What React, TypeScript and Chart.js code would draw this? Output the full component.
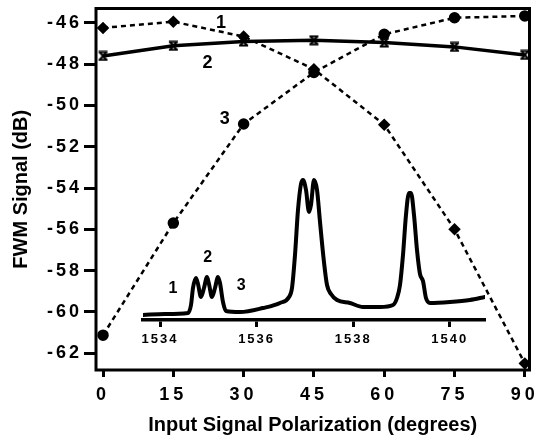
import React, { useEffect, useRef } from 'react';
import { Chart, registerables, LinearScale } from 'chart.js';

// ---------- data ----------
const POLARIZATION = [0, 15, 30, 45, 60, 75, 90];
const SERIES_1 = [-46.24, -45.94, -46.66, -48.24, -50.93, -56.0, -62.5];
const SERIES_2 = [-47.6, -47.11, -46.9, -46.84, -46.95, -47.16, -47.55];
const SERIES_3 = [-61.13, -55.7, -50.9, -48.4, -46.55, -45.75, -45.66];
const SERIES_NAMES = ['1', '2', '3'];
const SERIES_NAME_X = [25.2, 22.3, 26.0];
const SERIES_NAME_Y = [-46.0, -47.93, -50.64];

const X_TICKS = [0, 15, 30, 45, 60, 75, 90];
const Y_TICKS = [-62, -60, -58, -56, -54, -52, -50, -48, -46];
const X_TITLE = 'Input Signal Polarization (degrees)';
const Y_TITLE = 'FWM Signal (dB)';

// inset spectrum (wavelength in nm, relative power in arbitrary units)
const WAVELENGTH = [
  1533.648, 1534.104, 1534.58, 1534.642, 1534.683, 1534.745, 1534.787, 1534.849, 1534.911, 1534.973,
  1535.014, 1535.077, 1535.139, 1535.201, 1535.242, 1535.304, 1535.366, 1535.656, 1536.133, 1536.484,
  1536.671, 1536.733, 1536.795, 1536.857, 1536.919, 1536.961, 1537.023, 1537.085, 1537.126, 1537.188,
  1537.251, 1537.313, 1537.395, 1537.458, 1537.54, 1537.665, 1537.934, 1538.203, 1538.555, 1538.824,
  1538.907, 1538.969, 1539.031, 1539.093, 1539.155, 1539.197, 1539.259, 1539.321, 1539.383, 1539.445,
  1539.507, 1539.59, 1540.004, 1540.418, 1540.729,
];
const SPECTRUM = [
  5, 6, 7, 15, 32, 42, 36, 23, 32, 43,
  36, 23, 32, 43, 37, 18, 9, 8, 12, 17,
  23, 32, 65, 110, 136, 140, 130, 108, 115, 140,
  130, 98, 58, 35, 26, 20, 17, 13, 13, 15,
  22, 35, 65, 105, 127, 127, 105, 70, 46, 39,
  22, 17, 18, 20, 23,
];
const INSET_TICKS = [1534, 1536, 1538, 1540];
const INSET_NAMES = ['1', '2', '3'];
const INSET_NAME_X = [1534.27, 1534.99, 1535.68];
const INSET_NAME_Y = [31, 62, 34];

// ---------- setup ----------
const FONT = '"Liberation Sans", Arial, Helvetica, sans-serif';

class SpacedLinearScale extends LinearScale {
  static id = 'spacedLinear';
  static defaults = LinearScale.defaults;
  drawLabels(chartArea: any) {
    const ctx: any = this.ctx;
    ctx.save();
    ctx.letterSpacing = (this.options as any).letterSpacing || '0px';
    super.drawLabels(chartArea);
    ctx.restore();
  }
}

Chart.register(...registerables, SpacedLinearScale);

function makeHourglass(): HTMLCanvasElement {
  const c = document.createElement('canvas');
  c.width = 11;
  c.height = 11;
  const g = c.getContext('2d')!;
  g.strokeStyle = '#000';
  g.fillStyle = '#000';
  g.lineWidth = 2;
  g.beginPath();
  g.moveTo(1, 1.5); g.lineTo(10, 1.5);
  g.moveTo(1, 9.5); g.lineTo(10, 9.5);
  g.moveTo(2, 1.5); g.lineTo(9, 9.5);
  g.moveTo(9, 1.5); g.lineTo(2, 9.5);
  g.stroke();
  return c;
}

const framePlugin = {
  id: 'frame',
  beforeDatasetsDraw(chart: any) {
    const { ctx, chartArea: a } = chart;
    ctx.save();
    ctx.strokeStyle = '#000';
    ctx.lineWidth = 3;
    ctx.strokeRect(a.left, a.top, a.right - a.left, a.bottom - a.top);
    ctx.restore();
  },
};

function namesPlugin(names: string[], xs: number[], ys: number[], size: number) {
  return {
    id: 'names',
    afterDatasetsDraw(chart: any) {
      const { ctx, scales } = chart;
      ctx.save();
      ctx.font = `bold ${size}px ${FONT}`;
      ctx.fillStyle = '#000';
      ctx.textAlign = 'center';
      ctx.textBaseline = 'middle';
      names.forEach((t, i) => {
        ctx.fillText(t, scales.x.getPixelForValue(xs[i]), scales.y.getPixelForValue(ys[i]));
      });
      ctx.restore();
    },
  };
}

export default function App() {
  const mainRef = useRef<HTMLCanvasElement>(null);
  const insetRef = useRef<HTMLCanvasElement>(null);

  useEffect(() => {
    const hourglass = makeHourglass();
    const pts = (ys: number[]) => POLARIZATION.map((x, i) => ({ x, y: ys[i] }));

    const main = new Chart(mainRef.current!, {
      type: 'line',
      data: {
        datasets: [
          {
            label: SERIES_NAMES[0],
            data: pts(SERIES_1),
            borderColor: '#000',
            borderWidth: 2.5,
            borderDash: [5, 4],
            pointStyle: 'rectRot',
            pointRadius: 4.5,
            pointBackgroundColor: '#000',
            pointBorderColor: '#000',
          },
          {
            label: SERIES_NAMES[1],
            data: pts(SERIES_2),
            borderColor: '#000',
            borderWidth: 3.5,
            pointStyle: hourglass as any,
            pointRadius: 5,
          },
          {
            label: SERIES_NAMES[2],
            data: pts(SERIES_3),
            borderColor: '#000',
            borderWidth: 2.5,
            borderDash: [5, 4],
            pointStyle: 'circle',
            pointRadius: 4.5,
            pointBackgroundColor: '#000',
            pointBorderColor: '#000',
          },
        ],
      },
      options: {
        animation: false,
        responsive: false,
        devicePixelRatio: 1,
        layout: { padding: { top: 7, right: 8, bottom: 0, left: 0 } },
        plugins: { legend: { display: false }, tooltip: { enabled: false } },
        font: { family: FONT } as any,
        scales: {
          x: {
            type: 'spacedLinear' as any,
            letterSpacing: '4px',
            min: -1.5,
            max: 91,
            afterBuildTicks: (s: any) => { s.ticks = X_TICKS.map((v) => ({ value: v })); },
            afterFit: (s: any) => { s.height = 68; s.paddingLeft = 0; s.paddingRight = 0; },
            grid: { drawOnChartArea: false, drawTicks: true, tickLength: 7, tickWidth: 3, tickColor: '#000' } as any,
            border: { display: false },
            ticks: {
              color: '#000',
              font: { family: FONT, size: 18, weight: 'bold' },
              padding: 7,
              maxRotation: 0,
              autoSkip: false,
            },
            title: {
              display: true,
              text: X_TITLE,
              color: '#000',
              font: { family: FONT, size: 20, weight: 'bold' },
              padding: { top: 0, bottom: 1 },
            },
          } as any,
          y: {
            type: 'spacedLinear' as any,
            letterSpacing: '3px',
            min: -62.82,
            max: -45.3,
            afterBuildTicks: (s: any) => { s.ticks = Y_TICKS.map((v) => ({ value: v })); },
            afterFit: (s: any) => { s.width = 96; s.paddingTop = 0; s.paddingBottom = 0; },
            grid: { drawOnChartArea: false, drawTicks: true, tickLength: 12, tickWidth: 3, tickColor: '#000' } as any,
            border: { display: false },
            ticks: {
              color: '#000',
              font: { family: FONT, size: 18, weight: 'bold' },
              padding: 2,
              autoSkip: false,
              callback: (v: any) => String(v),
            },
            title: {
              display: true,
              text: Y_TITLE,
              color: '#000',
              font: { family: FONT, size: 20, weight: 'bold' },
              padding: { top: 9, bottom: 0 },
            },
          } as any,
        },
      },
      plugins: [framePlugin, namesPlugin(SERIES_NAMES, SERIES_NAME_X, SERIES_NAME_Y, 18)],
    });

    const inset = new Chart(insetRef.current!, {
      type: 'line',
      data: {
        datasets: [
          {
            data: WAVELENGTH.map((x, i) => ({ x, y: SPECTRUM[i] })),
            borderColor: '#000',
            borderWidth: 4,
            pointRadius: 0,
            cubicInterpolationMode: 'monotone',
            borderJoinStyle: 'round',
            borderCapStyle: 'round',
          },
        ],
      },
      options: {
        animation: false,
        responsive: false,
        devicePixelRatio: 1,
        layout: { padding: { top: 170, right: 53, bottom: 0, left: 143 } },
        plugins: { legend: { display: false }, tooltip: { enabled: false } },
        scales: {
          x: {
            type: 'spacedLinear' as any,
            letterSpacing: '2px',
            min: 1533.648,
            max: 1540.729,
            afterBuildTicks: (s: any) => { s.ticks = INSET_TICKS.map((v) => ({ value: v })); },
            afterFit: (s: any) => { s.height = 118; s.paddingLeft = 0; s.paddingRight = 0; },
            grid: { drawOnChartArea: false, drawTicks: true, tickLength: 7, tickWidth: 3, tickColor: '#000' } as any,
            border: { display: true, color: '#000', width: 3.5 },
            ticks: {
              color: '#000',
              font: { family: FONT, size: 13, weight: 'bold' },
              padding: 5,
              maxRotation: 0,
              autoSkip: false,
              callback: (v: any) => String(v),
            },
          } as any,
          y: { display: false, min: 0, max: 150 },
        },
      },
      plugins: [namesPlugin(INSET_NAMES, INSET_NAME_X, INSET_NAME_Y, 16)],
    });

    return () => {
      main.destroy();
      inset.destroy();
    };
  }, []);

  return (
    <div style={{ position: 'absolute', left: 0, top: 0, width: 538, height: 438, background: '#fff' }}>
      <canvas ref={mainRef} width={538} height={438} style={{ position: 'absolute', left: 0, top: 0 }} />
      <canvas ref={insetRef} width={538} height={438} style={{ position: 'absolute', left: 0, top: 0 }} />
    </div>
  );
}
